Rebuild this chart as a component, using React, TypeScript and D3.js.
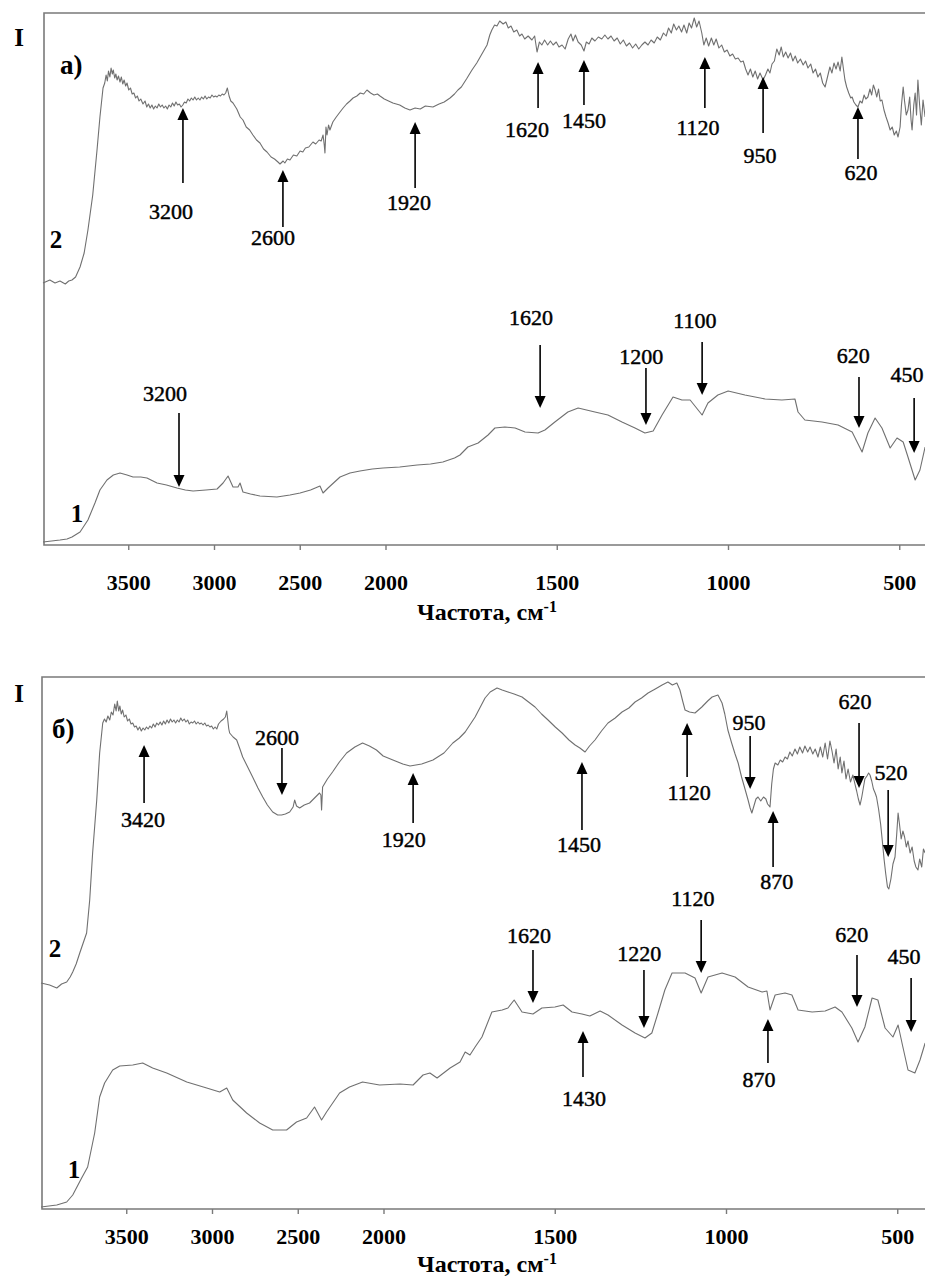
import * as d3 from "d3"

// IR spectra, panels а) and б). Wavenumber (cm-1) vs intensity (arb. units).
const X_TICKS = [3500, 3000, 2500, 2000, 1500, 1000, 500]

const A2: [number, number][] = [
  [4000, 262], [3960, 265], [3930, 262], [3901, 264], [3870, 261], [3850, 264], [3831, 265],
  [3810, 268], [3784, 278], [3760, 292], [3738, 315], [3710, 350], [3685, 395], [3668, 428],
  [3650, 457], [3640, 462], [3632, 470], [3625, 464], [3618, 474], [3610, 468], [3603, 477],
  [3596, 471], [3590, 475], [3582, 467], [3575, 471], [3568, 465], [3560, 469], [3551, 463],
  [3543, 468], [3535, 461], [3527, 465], [3518, 459], [3510, 462], [3500, 455], [3490, 457],
  [3480, 451], [3470, 452], [3460, 447], [3450, 449], [3440, 444], [3430, 446], [3417, 441],
  [3405, 444], [3395, 438], [3385, 441], [3375, 437], [3365, 440], [3355, 436], [3345, 439],
  [3335, 437], [3325, 441], [3315, 438], [3305, 440], [3295, 437], [3285, 439], [3275, 436],
  [3265, 440], [3255, 438], [3245, 442], [3235, 439], [3225, 443], [3215, 440], [3205, 441],
  [3195, 438], [3185, 440], [3175, 443], [3165, 442], [3155, 446], [3145, 444], [3135, 447],
  [3125, 445], [3115, 448], [3105, 445], [3095, 447], [3085, 445], [3075, 448], [3065, 446],
  [3055, 449], [3045, 446], [3035, 448], [3025, 447], [3015, 450], [3005, 448], [2995, 449],
  [2985, 448], [2975, 450], [2965, 449], [2955, 451], [2945, 450], [2935, 452], [2925, 457],
  [2915, 449], [2905, 444], [2892, 442], [2870, 436], [2850, 428], [2834, 425], [2815, 418],
  [2795, 415], [2776, 410], [2755, 405], [2735, 402], [2714, 396], [2694, 393], [2670, 388],
  [2650, 386], [2630, 383], [2618, 381], [2600, 384], [2590, 382], [2575, 386], [2560, 385],
  [2540, 390], [2520, 389], [2501, 394], [2485, 393], [2470, 397], [2450, 398], [2426, 403],
  [2410, 401], [2390, 405], [2378, 404], [2367, 410], [2360, 400], [2356, 392], [2350, 418],
  [2344, 410], [2335, 420], [2327, 415], [2310, 423], [2290, 428], [2268, 433], [2250, 437],
  [2230, 441], [2210, 444], [2192, 447], [2170, 449], [2150, 452], [2130, 451], [2111, 455],
  [2090, 452], [2070, 450], [2050, 451], [2035, 449], [2010, 446], [1980, 442], [1960, 440],
  [1945, 437], [1930, 435], [1915, 437], [1900, 436], [1885, 439], [1863, 438], [1845, 441],
  [1830, 443], [1813, 447], [1800, 451], [1790, 455], [1780, 458], [1765, 466], [1749, 475],
  [1735, 482], [1725, 488], [1715, 494], [1705, 500], [1697, 510], [1691, 515], [1683, 520],
  [1676, 519], [1668, 524], [1658, 521], [1650, 523], [1643, 517], [1635, 519], [1627, 513],
  [1618, 515], [1610, 509], [1603, 511], [1595, 506], [1585, 509], [1574, 505], [1566, 509],
  [1559, 493], [1552, 503], [1545, 500], [1537, 505], [1528, 500], [1520, 504], [1512, 500],
  [1503, 503], [1495, 498], [1486, 500], [1477, 496], [1468, 506], [1460, 511], [1454, 504],
  [1447, 510], [1439, 503], [1430, 500], [1422, 494], [1415, 503], [1407, 501], [1399, 507],
  [1390, 504], [1380, 508], [1370, 506], [1361, 510], [1352, 506], [1343, 509], [1334, 504],
  [1325, 507], [1316, 501], [1307, 505], [1298, 499], [1289, 502], [1280, 497], [1271, 501],
  [1262, 496], [1253, 500], [1244, 503], [1235, 500], [1226, 505], [1217, 502], [1208, 508],
  [1199, 505], [1190, 512], [1182, 509], [1175, 517], [1167, 512], [1160, 521], [1152, 515],
  [1145, 519], [1137, 513], [1130, 520], [1122, 512], [1115, 522], [1108, 517], [1100, 527],
  [1093, 518], [1086, 524], [1078, 512], [1072, 500], [1065, 507], [1058, 499], [1050, 507],
  [1043, 500], [1036, 506], [1028, 497], [1020, 500], [1012, 493], [1004, 495], [996, 489],
  [988, 491], [980, 486], [972, 487], [964, 483], [957, 484], [950, 476], [943, 470],
  [936, 476], [929, 468], [922, 474], [915, 466], [908, 472], [899, 465], [892, 470],
  [885, 476], [879, 472], [873, 481], [866, 484], [859, 496], [852, 490], [846, 498],
  [840, 488], [833, 493], [826, 487], [819, 492], [812, 484], [805, 489], [798, 482],
  [790, 486], [782, 480], [775, 484], [768, 477], [760, 481], [753, 472], [746, 476],
  [739, 468], [732, 472], [725, 462], [718, 458], [711, 468], [704, 478], [698, 472],
  [692, 482], [686, 476], [680, 483], [674, 474], [669, 488], [664, 475], [660, 465],
  [655, 458], [649, 452], [643, 447], [639, 448], [634, 443], [628, 440], [622, 438],
  [616, 444], [610, 442], [604, 450], [599, 446], [593, 448], [587, 456], [582, 450],
  [577, 460], [572, 455], [567, 448], [562, 456], [557, 444], [552, 445], [546, 435],
  [540, 428], [534, 422], [528, 415], [522, 418], [516, 410], [510, 414], [505, 408],
  [499, 418], [495, 440], [490, 458], [486, 444], [481, 430], [476, 435], [471, 448],
  [467, 425], [464, 415], [459, 440], [455, 452], [451, 430], [447, 465], [442, 440],
  [437, 420], [432, 445], [426, 428],
]

const A1: [number, number][] = [
  [4000, 3], [3950, 4], [3901, 5], [3860, 6], [3831, 8], [3784, 13], [3738, 25], [3697, 42],
  [3668, 55], [3627, 65], [3590, 70], [3551, 72], [3510, 70], [3475, 68], [3430, 68],
  [3394, 67], [3335, 62], [3280, 60], [3219, 57], [3170, 55], [3125, 54], [3050, 55],
  [2985, 56], [2950, 62], [2921, 69], [2892, 58], [2863, 58], [2851, 62], [2834, 53],
  [2790, 51], [2735, 49], [2636, 48], [2560, 50], [2501, 52], [2440, 55], [2385, 59],
  [2367, 52], [2338, 57], [2300, 63], [2268, 68], [2210, 72], [2152, 74], [2080, 76],
  [2017, 77], [1960, 78], [1909, 80], [1870, 81], [1834, 83], [1800, 87], [1784, 90],
  [1761, 98], [1731, 102], [1702, 110], [1682, 117], [1653, 118], [1623, 117], [1594, 113],
  [1556, 112], [1536, 115], [1507, 123], [1469, 133], [1439, 137], [1390, 133], [1352, 130],
  [1311, 123], [1273, 117], [1244, 112], [1220, 114], [1194, 130], [1162, 148], [1136, 145],
  [1112, 145], [1077, 130], [1060, 142], [1031, 150], [1001, 154], [952, 150], [893, 146],
  [844, 145], [806, 146], [797, 133], [777, 125], [727, 123], [680, 120], [639, 113],
  [610, 93], [593, 112], [572, 127], [552, 117], [528, 97], [508, 107], [490, 103],
  [476, 88], [455, 65], [441, 75], [426, 98],
]

const B2: [number, number][] = [
  [4000, 226], [3950, 224], [3908, 221], [3880, 225], [3850, 227], [3830, 232], [3815, 237],
  [3795, 245], [3774, 256], [3734, 276], [3716, 309], [3699, 356], [3675, 409], [3658, 456],
  [3640, 486], [3630, 490], [3620, 487], [3610, 493], [3599, 489], [3590, 497], [3580, 494],
  [3570, 505], [3562, 498], [3555, 508], [3547, 498], [3540, 503], [3532, 495], [3524, 499],
  [3515, 492], [3505, 494], [3495, 488], [3485, 490], [3475, 485], [3465, 486], [3455, 482],
  [3445, 483], [3435, 479], [3425, 482], [3415, 478], [3405, 481], [3395, 479], [3385, 482],
  [3375, 480], [3365, 483], [3355, 481], [3345, 485], [3335, 482], [3325, 486], [3315, 484],
  [3305, 487], [3295, 484], [3285, 488], [3275, 485], [3265, 489], [3255, 486], [3245, 490],
  [3235, 487], [3225, 489], [3215, 486], [3205, 489], [3195, 487], [3185, 491], [3175, 488],
  [3165, 490], [3155, 487], [3145, 489], [3135, 485], [3125, 487], [3115, 486], [3105, 488],
  [3095, 485], [3085, 487], [3075, 485], [3065, 486], [3055, 484], [3045, 486], [3035, 483],
  [3025, 484], [3015, 482], [3005, 483], [2995, 480], [2985, 482], [2975, 480], [2965, 485],
  [2950, 488], [2935, 490], [2925, 492], [2917, 498], [2905, 480], [2900, 476], [2880, 472],
  [2859, 469], [2840, 460], [2824, 452], [2795, 442], [2766, 432], [2735, 421], [2707, 412],
  [2680, 404], [2649, 397], [2620, 394], [2597, 394], [2575, 395], [2550, 397], [2530, 402],
  [2521, 409], [2510, 403], [2492, 401], [2465, 404], [2434, 406], [2405, 411], [2376, 416],
  [2368, 414], [2364, 399], [2358, 422], [2330, 430], [2300, 437], [2260, 447], [2218, 456],
  [2170, 462], [2125, 466], [2085, 463], [2044, 459], [2005, 453], [1974, 449], [1945, 445],
  [1924, 443], [1890, 445], [1857, 449], [1825, 456], [1799, 466], [1780, 471], [1763, 477],
  [1734, 492], [1705, 511], [1690, 517], [1670, 521], [1655, 519], [1638, 517], [1620, 515],
  [1597, 512], [1578, 507], [1559, 502], [1540, 495], [1521, 489], [1500, 482], [1480, 476],
  [1460, 469], [1442, 464], [1428, 461], [1413, 457], [1400, 463], [1384, 469], [1365, 478],
  [1346, 486], [1325, 491], [1305, 497], [1285, 501], [1267, 507], [1248, 511], [1229, 516],
  [1208, 520], [1188, 524], [1171, 527], [1158, 524], [1145, 526], [1136, 519], [1128, 508],
  [1121, 499], [1108, 497], [1092, 496], [1072, 502], [1055, 508], [1042, 512], [1025, 514],
  [1013, 506], [1005, 495], [996, 479], [985, 466], [975, 455], [966, 446], [956, 432],
  [946, 420], [937, 409], [931, 401], [926, 396], [920, 403], [914, 410], [908, 412],
  [900, 408], [892, 412], [885, 410], [880, 405], [873, 402], [868, 425], [863, 440],
  [858, 446], [850, 444], [843, 449], [836, 447], [829, 452], [822, 450], [815, 457],
  [808, 453], [800, 460], [793, 455], [786, 462], [778, 456], [771, 463], [763, 457],
  [756, 462], [748, 455], [741, 460], [733, 452], [726, 462], [719, 452], [712, 466],
  [705, 450], [698, 468], [692, 458], [686, 446], [680, 460], [674, 440], [668, 452],
  [663, 436], [657, 448], [651, 430], [645, 440], [638, 427], [631, 434], [625, 425],
  [620, 418], [615, 410], [610, 404], [605, 412], [600, 422], [596, 430], [590, 433],
  [585, 436], [581, 434], [576, 428], [571, 420], [566, 416], [562, 412], [556, 400],
  [550, 385], [545, 368], [540, 350], [535, 335], [530, 322], [526, 320], [520, 330],
  [514, 345], [508, 352], [503, 375], [499, 396], [495, 385], [490, 370], [485, 378],
  [480, 372], [475, 362], [470, 368], [464, 356], [458, 362], [452, 348], [447, 342],
  [441, 339], [436, 350], [430, 342], [425, 360], [420, 356],
]

const B1: [number, number][] = [
  [4000, 2], [3908, 4], [3850, 7], [3815, 14], [3763, 31], [3728, 42], [3687, 76],
  [3658, 112], [3629, 126], [3582, 139], [3541, 143], [3465, 144], [3407, 146], [3349, 141],
  [3267, 136], [3150, 127], [3034, 121], [2958, 117], [2917, 121], [2882, 109], [2801, 96],
  [2725, 86], [2649, 79], [2568, 79], [2510, 87], [2451, 91], [2405, 102], [2364, 89],
  [2335, 97], [2259, 116], [2201, 122], [2125, 127], [2026, 124], [1953, 125], [1915, 124],
  [1886, 134], [1866, 136], [1845, 131], [1807, 141], [1778, 147], [1763, 157], [1749, 154],
  [1734, 162], [1714, 172], [1685, 197], [1655, 199], [1638, 201], [1620, 209], [1597, 197],
  [1565, 195], [1539, 201], [1501, 202], [1477, 204], [1451, 197], [1422, 195], [1399, 193],
  [1369, 198], [1346, 194], [1305, 184], [1267, 176], [1238, 171], [1218, 176], [1200, 196],
  [1180, 219], [1159, 236], [1121, 236], [1092, 231], [1074, 216], [1054, 232], [1013, 236],
  [975, 232], [937, 222], [896, 217], [882, 218], [873, 199], [858, 214], [829, 216],
  [809, 214], [791, 199], [750, 197], [712, 198], [683, 202], [663, 197], [634, 181],
  [616, 167], [596, 182], [575, 211], [558, 209], [537, 181], [514, 172], [499, 184],
  [485, 162], [470, 139], [450, 136], [435, 149], [420, 166],
]

// arrow marks: text, arrow wavenumber, tail/tip intensity, label wavenumber + baseline intensity
interface Mark { text: string; at: number; tail: number; tip: number; lx: number; ly: number }

const MARKS_A: Mark[] = [
  { text: "3200", at: 3184, tail: 362, tip: 437, lx: 3254, ly: 326 },
  { text: "2600", at: 2601, tail: 318, tip: 375, lx: 2659, ly: 300 },
  { text: "1920", at: 1915, tail: 357, tip: 423, lx: 1933, ly: 335 },
  { text: "1620", at: 1556, tail: 437, tip: 483, lx: 1588, ly: 408 },
  { text: "1450", at: 1422, tail: 440, tip: 485, lx: 1422, ly: 417 },
  { text: "1120", at: 1069, tail: 437, tip: 488, lx: 1089, ly: 410 },
  { text: "950", at: 899, tail: 412, tip: 468, lx: 908, ly: 382 },
  { text: "620", at: 622, tail: 386, tip: 438, lx: 613, ly: 365 },
  { text: "3200", at: 3207, tail: 132, tip: 58, lx: 3289, ly: 144 },
  { text: "1620", at: 1550, tail: 200, tip: 137, lx: 1577, ly: 220 },
  { text: "1200", at: 1241, tail: 177, tip: 120, lx: 1255, ly: 181 },
  { text: "1100", at: 1077, tail: 203, tip: 150, lx: 1098, ly: 217 },
  { text: "620", at: 619, tail: 168, tip: 117, lx: 636, ly: 182 },
  { text: "450", at: 458, tail: 147, tip: 92, lx: 479, ly: 163 },
]

const MARKS_B: Mark[] = [
  { text: "3420", at: 3399, tail: 406, tip: 464, lx: 3405, ly: 382 },
  { text: "2600", at: 2595, tail: 461, tip: 414, lx: 2624, ly: 464 },
  { text: "1920", at: 1915, tail: 386, tip: 436, lx: 1942, ly: 362 },
  { text: "1450", at: 1422, tail: 379, tip: 447, lx: 1431, ly: 357 },
  { text: "1120", at: 1115, tail: 432, tip: 486, lx: 1109, ly: 409 },
  { text: "950", at: 931, tail: 473, tip: 420, lx: 934, ly: 479 },
  { text: "870", at: 864, tail: 342, tip: 398, lx: 853, ly: 320 },
  { text: "620", at: 613, tail: 486, tip: 421, lx: 625, ly: 500 },
  { text: "520", at: 528, tail: 419, tip: 352, lx: 520, ly: 429 },
  { text: "1620", at: 1565, tail: 259, tip: 206, lx: 1577, ly: 266 },
  { text: "1220", at: 1241, tail: 239, tip: 181, lx: 1255, ly: 248 },
  { text: "1120", at: 1074, tail: 289, tip: 236, lx: 1098, ly: 303 },
  { text: "1430", at: 1419, tail: 132, tip: 178, lx: 1416, ly: 103 },
  { text: "870", at: 879, tail: 146, tip: 190, lx: 905, ly: 122 },
  { text: "620", at: 619, tail: 254, tip: 202, lx: 634, ly: 267 },
  { text: "450", at: 461, tail: 231, tip: 177, lx: 482, ly: 245 },
]

const SERIF = "\"Liberation Serif\", \"Times New Roman\", \"DejaVu Serif\", serif"
const W = 925
const H = 1278

interface PanelSpec {
  letter: string
  top: number
  bottom: number
  xRange: [number, number, number]
  tickDy: number
  titleDy: number
  curves: { id: string; data: [number, number][]; tag: [number, number] }[]
  marks: Mark[]
}

const PANELS: PanelSpec[] = [
  {
    letter: "а)",
    top: 13,
    bottom: 545,
    xRange: [43, 386, 934],
    tickDy: 45,
    titleDy: 75,
    curves: [
      { id: "2", data: A2, tag: [3924, 297] },
      { id: "1", data: A1, tag: [3802, 23] },
    ],
    marks: MARKS_A,
  },
  {
    letter: "б)",
    top: 677,
    bottom: 1209,
    xRange: [41, 384, 932],
    tickDy: 35,
    titleDy: 63,
    curves: [
      { id: "2", data: B2, tag: [3918, 252] },
      { id: "1", data: B1, tag: [3808, 31] },
    ],
    marks: MARKS_B,
  },
]

function Panel({ p }: { p: PanelSpec }) {
  // split abscissa: 4000–2000 at half the scale of 2000–400, as on the instrument
  const x = d3.scaleLinear().domain([4000, 2000, 400]).range(p.xRange)
  const y = d3.scaleLinear().domain([0, 532]).range([p.bottom, p.top])
  const line = d3
    .line<[number, number]>()
    .x((d) => x(d[0]))
    .y((d) => y(d[1]))
  const left = p.xRange[0] + 1
  const axisColor = "#7a7a7a"
  const isA = p.top < 100

  return (
    <g style={{ fontFamily: SERIF }}>
      {/* frame */}
      <path
        d={`M${W},${p.top}H${left}V${p.bottom}H${W}`}
        fill="none"
        stroke={axisColor}
        strokeWidth={1.6}
      />
      {X_TICKS.map((t) => (
        <g key={t}>
          <line x1={x(t)} x2={x(t)} y1={p.bottom} y2={p.bottom + 5} stroke={axisColor} strokeWidth={1.4} />
          <text x={x(t)} y={p.bottom + p.tickDy} textAnchor="middle" fontWeight="bold" fontSize={22}>
            {t}
          </text>
        </g>
      ))}
      <text x={487} y={p.bottom + p.titleDy} textAnchor="middle" fontWeight="bold" fontSize={24}>
        Частота, см<tspan dy={-8} fontSize={16}>-1</tspan>
      </text>

      <text x={19} y={p.top + (isA ? 33 : 25)} textAnchor="middle" fontWeight="bold" fontSize={25}>
        I
      </text>
      <text x={isA ? 60 : 52} y={p.top + 61} fontWeight="bold" fontSize={27}>
        {p.letter}
      </text>

      {p.curves.map((c) => (
        <g key={c.id}>
          <path d={line(c.data) ?? undefined} fill="none" stroke="#707070" strokeWidth={1.1} strokeLinejoin="round" />
          <text x={x(c.tag[0])} y={y(c.tag[1])} textAnchor="middle" fontWeight="bold" fontSize={25}>
            {c.id}
          </text>
        </g>
      ))}

      {p.marks.map((m, i) => {
        const ax = x(m.at)
        const y1 = y(m.tail)
        const y2 = y(m.tip)
        const dir = y2 > y1 ? 1 : -1
        const hl = 12
        return (
          <g key={i}>
            <line x1={ax} x2={ax} y1={y1} y2={y2 - dir * hl} stroke="#000" strokeWidth={1.6} />
            <path d={`M${ax},${y2}L${ax - 5.5},${y2 - dir * hl}L${ax + 5.5},${y2 - dir * hl}Z`} fill="#000" />
            <text x={x(m.lx)} y={y(m.ly)} textAnchor="middle" fontSize={22} stroke="#000" strokeWidth={0.45}>
              {m.text}
            </text>
          </g>
        )
      })}
    </g>
  )
}

export default function App() {
  return (
    <div>
      <style>{"body{margin:0}"}</style>
      <svg width={W} height={H} viewBox={`0 0 ${W} ${H}`} style={{ display: "block", background: "#fff" }}>
        {PANELS.map((p) => (
          <Panel key={p.letter} p={p} />
        ))}
      </svg>
    </div>
  )
}
